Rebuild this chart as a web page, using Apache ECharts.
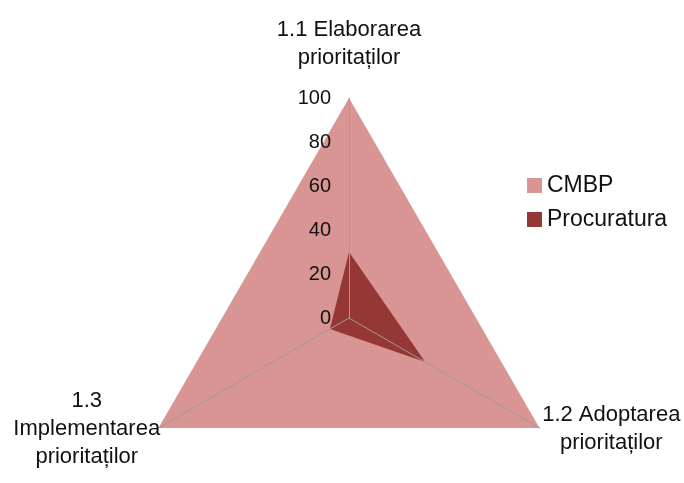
<!DOCTYPE html>
<html lang="ro">
<head>
<meta charset="utf-8">
<title>Radar</title>
<style>
  html, body, #chart { width: 100%; height: 100%; margin: 0; padding: 0; overflow: hidden; background: #fff; }
</style>
</head>
<body>
<div id="chart"></div>
<script src="https://cdn.jsdelivr.net/npm/echarts@6/dist/echarts.min.js"></script>
<script>
  // order follows echarts radar direction (counter-clockwise from top)
  var axisNames = ['1.1 Elaborarea\nprioritaților', '1.3\nImplementarea\nprioritaților', '1.2 Adoptarea\nprioritaților'];
  var seriesNames = ['CMBP', 'Procuratura'];
  var cmbpValues = [100, 100, 100];
  var procValues = [30, 10, 40];
  var axisMax = 100;

  var chart = echarts.init(document.getElementById('chart'));

  var indicators = axisNames.map(function (n, i) {
    var ind = { name: n, max: axisMax, min: 0 };
    if (i === 0) {
      ind.axisLabel = { show: true };
      ind.nameGap = 26;
    }
    return ind;
  });

  var option = {
    backgroundColor: '#fff',
    color: ['#d99594', '#953735'],
    legend: {
      orient: 'vertical',
      left: 522,
      top: 169,
      itemWidth: 15,
      itemHeight: 15,
      itemGap: 11,
      icon: 'rect',
      textStyle: { fontFamily: 'Liberation Sans', fontSize: 23, color: '#111' },
      data: seriesNames
    },
    radar: {
      center: [349, 318],
      radius: 220,
      startAngle: 90,
      shape: 'polygon',
      splitNumber: 5,
      z: 10,
      nameGap: 2,
      axisName: {
        fontFamily: 'Liberation Sans',
        fontSize: 22,
        color: '#111',
        lineHeight: 28,
        formatter: function (v) {
          return v.split('\n').map(function (s) { return '{c|' + s + '}'; }).join('\n');
        },
        rich: {
          c: { fontFamily: 'Liberation Sans', fontSize: 22, color: '#111', lineHeight: 28, width: 140, align: 'center' }
        }
      },
      axisLine: { lineStyle: { color: '#a09a9a', width: 1 } },
      axisTick: { show: false },
      axisLabel: {
        show: false,
        margin: 18,
        fontFamily: 'Liberation Sans',
        fontSize: 20,
        color: '#111'
      },
      splitLine: { show: false },
      splitArea: { show: false },
      indicator: indicators
    },
    series: [{
      type: 'radar',
      symbol: 'none',
      data: [
        {
          name: seriesNames[0],
          value: cmbpValues,
          lineStyle: { width: 0 },
          areaStyle: { color: '#d99594', opacity: 1 }
        },
        {
          name: seriesNames[1],
          value: procValues,
          lineStyle: { width: 0 },
          areaStyle: { color: '#953735', opacity: 1 }
        }
      ]
    }]
  };
  chart.setOption(option);
</script>
</body>
</html>
